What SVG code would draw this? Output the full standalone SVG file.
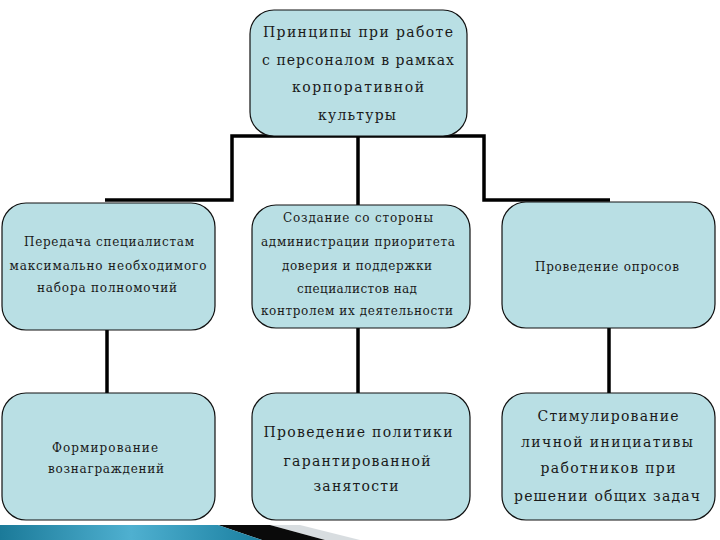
<svg xmlns="http://www.w3.org/2000/svg" width="720" height="540" viewBox="0 0 720 540">
<defs>
<linearGradient id="bar" x1="0" y1="0" x2="1" y2="0">
<stop offset="0" stop-color="#1b7a99"/>
<stop offset="0.5" stop-color="#4fb0d0"/>
<stop offset="1" stop-color="#1a7fa0"/>
</linearGradient>
<style>
.box{fill:#b9dfe4;stroke:#111;stroke-width:1.2}
.t{fill:#1a1a1a;text-anchor:middle;font-family:"DejaVu Serif",serif}
.l{font-size:14px}
.s{font-size:12px}
.conn{fill:none;stroke:#000;stroke-width:3.5}
</style>
</defs>
<rect width="720" height="540" fill="#fff"/>
<g id="connectors">
<polyline class="conn" points="105,200 232,200 232,136 484,136 484,200 610,200"/>
<line class="conn" x1="358" y1="136" x2="358" y2="206"/>
<line class="conn" x1="107" y1="328" x2="107" y2="394"/>
<line class="conn" x1="358" y1="325" x2="358" y2="394"/>
<line class="conn" x1="609" y1="328" x2="609" y2="394"/>
</g>
<g id="n-top">
<rect class="box" x="250" y="10" width="217" height="126" rx="24"/>
<text class="t l" x="358" y="37" textLength="190" lengthAdjust="spacing">Принципы при работе</text>
<text class="t l" x="358" y="65" textLength="192" lengthAdjust="spacing">с персоналом в рамках</text>
<text class="t l" x="358" y="92" textLength="132" lengthAdjust="spacing">корпоративной</text>
<text class="t l" x="357" y="120" textLength="78" lengthAdjust="spacing">культуры</text>
</g>
<g id="n-ml">
<rect class="box" x="2" y="203" width="213" height="127" rx="24"/>
<text class="t s" x="109" y="246" textLength="170" lengthAdjust="spacing">Передача специалистам</text>
<text class="t s" x="108" y="270" textLength="197" lengthAdjust="spacing">максимально необходимого</text>
<text class="t s" x="107" y="292" textLength="140" lengthAdjust="spacing">набора полномочий</text>
</g>
<g id="n-mc">
<rect class="box" x="252" y="205" width="218" height="123" rx="24"/>
<text class="t s" x="358" y="222" textLength="150" lengthAdjust="spacing">Создание со стороны</text>
<text class="t s" x="358" y="246" textLength="194" lengthAdjust="spacing">администрации приоритета</text>
<text class="t s" x="357" y="270" textLength="150" lengthAdjust="spacing">доверия и поддержки</text>
<text class="t s" x="357" y="293" textLength="120" lengthAdjust="spacing">специалистов над</text>
<text class="t s" x="357" y="315" textLength="192" lengthAdjust="spacing">контролем их деятельности</text>
</g>
<g id="n-mr">
<rect class="box" x="502" y="202" width="213" height="126" rx="24"/>
<text class="t s" x="607" y="271" textLength="144" lengthAdjust="spacing">Проведение опросов</text>
</g>
<g id="n-bl">
<rect class="box" x="2" y="393" width="213" height="127" rx="24"/>
<text class="t s" x="105" y="452" textLength="106" lengthAdjust="spacing">Формирование</text>
<text class="t s" x="106" y="473" textLength="116" lengthAdjust="spacing">вознаграждений</text>
</g>
<g id="n-bc">
<rect class="box" x="252" y="393" width="218" height="127" rx="24"/>
<text class="t l" x="358" y="437" textLength="189" lengthAdjust="spacing">Проведение политики</text>
<text class="t l" x="357" y="466" textLength="147" lengthAdjust="spacing">гарантированной</text>
<text class="t l" x="356" y="491" textLength="85" lengthAdjust="spacing">занятости</text>
</g>
<g id="n-br">
<rect class="box" x="502" y="393" width="213" height="127" rx="24"/>
<text class="t l" x="608" y="421" textLength="141" lengthAdjust="spacing">Стимулирование</text>
<text class="t l" x="607" y="447" textLength="172" lengthAdjust="spacing">личной инициативы</text>
<text class="t l" x="608" y="473" textLength="135" lengthAdjust="spacing">работников при</text>
<text class="t l" x="607" y="501" textLength="186" lengthAdjust="spacing">решении общих задач</text>
</g>
<g id="decor">
<polygon points="270,525 300,525 360,540 325,540" fill="#d8dde0"/>
<polygon points="218,525 270,525 325,540 262,540" fill="#0a0a0a"/>
<polygon points="0,525 218,525 262,540 0,540" fill="url(#bar)"/>
</g>
</svg>
